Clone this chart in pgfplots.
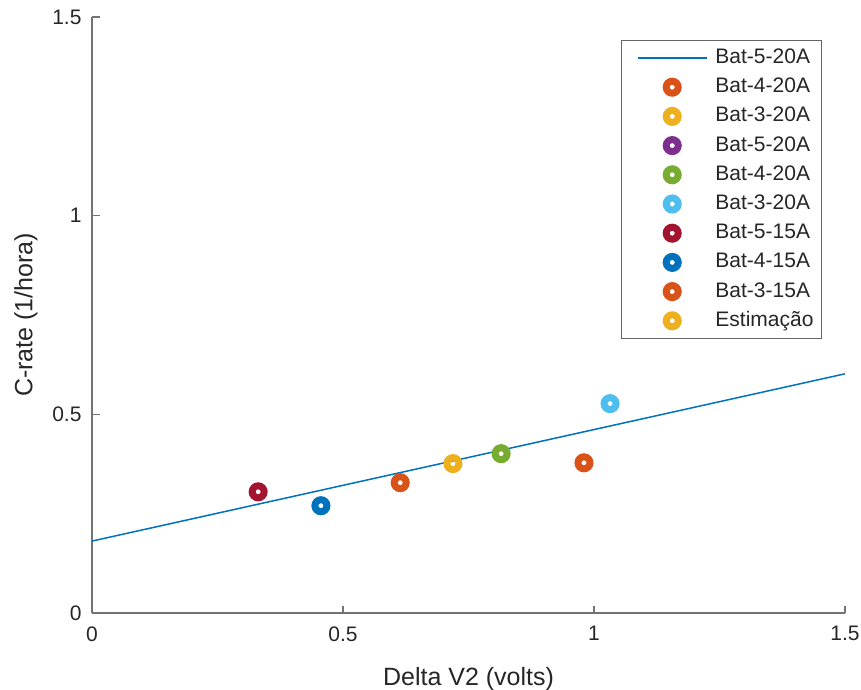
\documentclass[border=0pt]{standalone}
\usepackage{fontspec}
\setmainfont{Liberation Sans}
\usepackage{pgfplots}
\pgfplotsset{compat=1.18}

\definecolor{c1}{RGB}{0,114,189}
\definecolor{c2}{RGB}{217,83,25}
\definecolor{c3}{RGB}{237,177,32}
\definecolor{c4}{RGB}{126,47,142}
\definecolor{c5}{RGB}{119,172,48}
\definecolor{c6}{RGB}{77,190,238}
\definecolor{c7}{RGB}{162,20,47}
\definecolor{txt}{RGB}{38,38,38}

\begin{document}
\begin{tikzpicture}
\useasboundingbox (-92pt,-76pt) rectangle (769pt,613pt);
\begin{axis}[
    at={(0,0)}, anchor=south west,
    scale only axis,
    width=753pt, height=596pt,
    xmin=0, xmax=1.5, ymin=0, ymax=1.5,
    xtick={0,0.5,1,1.5}, ytick={0,0.5,1,1.5},
    axis x line*=bottom, axis y line*=left,
    axis line style={-, black!55, line width=1.2pt},
    tick style={black!55, line width=1.2pt},
    tick align=inside,
    major tick length=7.5pt,
    /pgf/number format/assume math mode=true,
    ticklabel style={font=\fontsize{21}{25}\selectfont, text=txt},
    xticklabel style={yshift=-10pt},
    yticklabel style={xshift=-7pt},
    label style={font=\fontsize{25}{30}\selectfont, text=txt},
    xlabel={Delta V2 (volts)},
    ylabel={C-rate (1/hora)},
    xlabel style={at={([yshift=-72pt]axis description cs:0.5,0)}, anchor=base},
    ylabel style={at={([xshift=-66pt]axis description cs:0,0.5)}, anchor=center},
    legend cell align=left,
    legend image code/.code={%
        \path (-5pt,0pt);
        \draw[mark repeat=2,mark phase=2,#1]
        plot coordinates {(0pt,0pt) (34.5pt,0pt) (69pt,0pt)};},
    legend style={
        at={(1,1)}, anchor=north east, xshift=-23pt, yshift=-23pt,
        draw=black!60, line width=1pt,
        font=\fontsize{21}{25}\selectfont, text=txt,
        inner xsep=8pt, inner ysep=8pt,
        row sep=10.2pt,
        nodes={inner sep=0pt, text height=15pt, text depth=4pt},
        /tikz/every odd column/.append style={column sep=8pt},
    },
    mk/.style={only marks, mark=o, mark size=6pt, line width=7pt},
]
\addplot[c1, line width=1.5pt] coordinates {(0,0.181) (1.5,0.602)};
\addlegendentry{Bat-5-20A}
\addplot[mk, c2] coordinates {(0.980,0.378)};
\addlegendentry{Bat-4-20A}
\addlegendimage{mk, c3}
\addlegendentry{Bat-3-20A}
\addlegendimage{mk, c4}
\addlegendentry{Bat-5-20A}
\addplot[mk, c5] coordinates {(0.815,0.401)};
\addlegendentry{Bat-4-20A}
\addplot[mk, c6] coordinates {(1.032,0.527)};
\addlegendentry{Bat-3-20A}
\addplot[mk, c7] coordinates {(0.331,0.305)};
\addlegendentry{Bat-5-15A}
\addplot[mk, c1] coordinates {(0.456,0.270)};
\addlegendentry{Bat-4-15A}
\addplot[mk, c2] coordinates {(0.614,0.328)};
\addlegendentry{Bat-3-15A}
\addplot[mk, c3] coordinates {(0.719,0.376)};
\addlegendentry{Estimação}
\end{axis}
\end{tikzpicture}
\end{document}
